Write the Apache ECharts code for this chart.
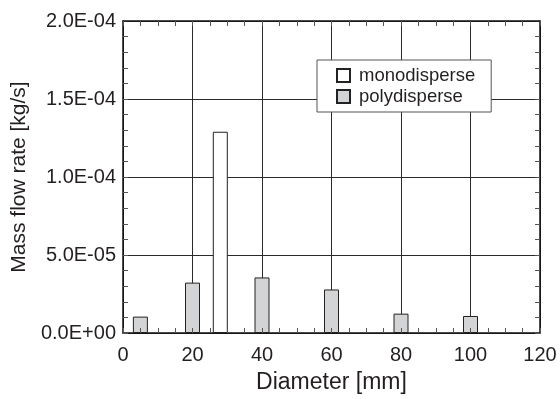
<!DOCTYPE html>
<html><head><meta charset="utf-8">
<script src="https://cdn.jsdelivr.net/npm/echarts@6/dist/echarts.min.js"></script>
<style>html,body{margin:0;padding:0;background:#fff}#c{width:560px;height:399px}</style>
</head><body><div id="c"></div>
<script>
// Data
var polyDiameters = [5, 20, 40, 60, 80, 100];
var polyValues = [1.05e-5, 3.23e-5, 3.56e-5, 2.79e-5, 1.24e-5, 1.09e-5];
var monoDiameters = [28];
var monoValues = [1.29e-4];
var seriesNames = ['monodisperse', 'polydisperse'];
var xTitle = 'Diameter [mm]';
var yTitle = 'Mass flow rate [kg/s]';

function pairs(xs, ys){ return xs.map(function(x,i){ return [x, ys[i]]; }); }
function fmtE(v){
  if (v === 0) return '0.0E+00';
  var e = Math.floor(Math.log10(Math.abs(v)) + 1e-9);
  var m = v / Math.pow(10, e);
  var s = e < 0 ? '-' : '+';
  var ae = Math.abs(e);
  return m.toFixed(1) + 'E' + s + (ae < 10 ? '0' + ae : ae);
}
var FONT = '"Liberation Sans", Arial, sans-serif';
var TXT = '#231f20';
var chart = echarts.init(document.getElementById('c'), null, {renderer:'canvas'});
function ticks(){ return {show:true, inside:true, length:5, lineStyle:{color:'#555', width:1}}; }
function minor(n){ return {show:true, splitNumber:n, length:5, lineStyle:{color:'#555', width:1}}; }
function line(show){ return {show:show, onZero:false, lineStyle:{color:'#111', width:1.5}}; }
var xBase = {type:'value', min:0, max:120, interval:20};
var yBase = {type:'value', min:0, max:2e-4, interval:5e-5};
chart.setOption({
  backgroundColor:'#fff',
  animation:false,
  textStyle:{fontFamily:FONT},
  grid:{left:123, right:20, top:21, bottom:60, containLabel:false},
  legend:{
    orient:'vertical', left:317, top:60,
    padding:[6,16,6,19], itemGap:2,
    backgroundColor:'#fff', borderColor:'#555', borderWidth:1, borderRadius:0,
    itemWidth:13, itemHeight:13, icon:'rect',
    textStyle:{fontFamily:FONT, fontSize:18.5, color:TXT, padding:[0,0,0,4]},
    data:seriesNames
  },
  xAxis:[Object.assign({}, xBase, {
    position:'bottom', z:0,
    name:xTitle, nameLocation:'middle', nameGap:38,
    nameTextStyle:{fontFamily:FONT, fontSize:23, color:TXT},
    axisLine:line(true),
    axisTick:{show:false}, minorTick:{show:false},
    splitLine:{show:true, lineStyle:{color:'#2a2a2a', width:1}},
    axisLabel:{fontFamily:FONT, fontSize:20, color:TXT, margin:12}
  }), Object.assign({}, xBase, {
    position:'top', z:5,
    axisLine:line(true),
    axisTick:ticks(), minorTick:minor(4),
    splitLine:{show:false}, axisLabel:{show:false}
  }), Object.assign({}, xBase, {
    position:'bottom', z:5,
    axisLine:line(false),
    axisTick:ticks(), minorTick:minor(4),
    splitLine:{show:false}, axisLabel:{show:false}
  })],
  yAxis:[Object.assign({}, yBase, {
    position:'left',
    name:yTitle, nameLocation:'middle', nameGap:92, nameRotate:90,
    nameTextStyle:{fontFamily:FONT, fontSize:21, color:TXT},
    axisLine:line(true),
    axisTick:ticks(), minorTick:minor(5),
    splitLine:{show:true, lineStyle:{color:'#2a2a2a', width:1}},
    axisLabel:{fontFamily:FONT, fontSize:20, color:TXT, margin:7, formatter:fmtE}
  }), Object.assign({}, yBase, {
    position:'right',
    axisLine:line(true),
    axisTick:ticks(), minorTick:minor(5),
    splitLine:{show:false}, axisLabel:{show:false}
  })],
  series:[{
    name:seriesNames[0], type:'bar', xAxisIndex:0, yAxisIndex:0,
    barWidth:15, barGap:'-100%',
    itemStyle:{color:'#ffffff', borderColor:'#222', borderWidth:1},
    data:pairs(monoDiameters, monoValues)
  },{
    name:seriesNames[1], type:'bar', xAxisIndex:0, yAxisIndex:0,
    barWidth:15, barGap:'-100%',
    itemStyle:{color:'#d3d4d6', borderColor:'#222', borderWidth:1},
    data:pairs(polyDiameters, polyValues)
  }]
});
</script></body></html>
